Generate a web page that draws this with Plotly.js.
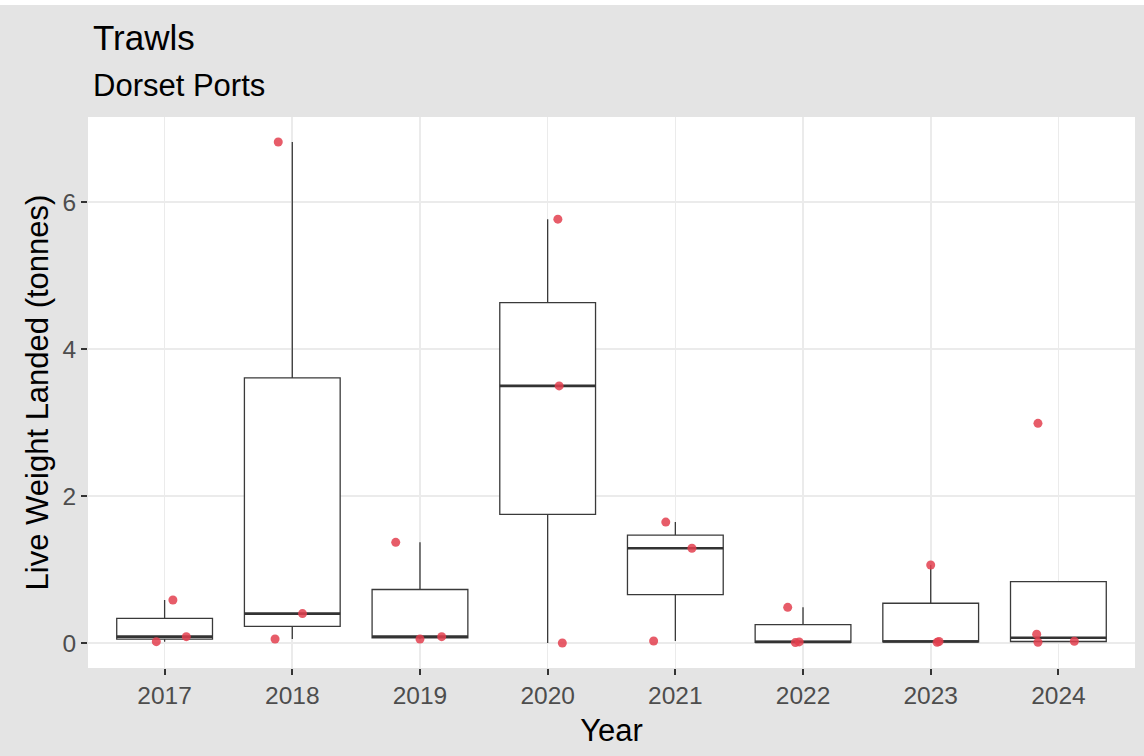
<!DOCTYPE html>
<html><head><meta charset="utf-8">
<script src="https://cdn.plot.ly/plotly-3.0.1.min.js"></script>
<style>
html,body{margin:0;padding:0;background:#ffffff;overflow:hidden;}
#chart{position:absolute;left:0;top:5px;width:1144px;height:751px;}
</style>
</head><body><div id="chart"></div>
<script>
// Categories
const years = [2017, 2018, 2019, 2020, 2021, 2022, 2023, 2024];
const yTicks = [0, 2, 4, 6];

const pointYear   = [2017, 2017, 2017, 2018, 2018, 2018, 2019, 2019, 2019, 2020, 2020, 2020, 2021, 2021, 2021, 2022, 2022, 2022, 2023, 2023, 2023, 2024, 2024, 2024, 2024];
const pointValue  = [0.585, 0.086, 0.018, 6.82, 0.40, 0.054, 1.37, 0.054, 0.086, 5.77, 3.50, 0.0, 1.646, 1.29, 0.027, 0.485, 0.005, 0.014, 1.061, 0.02, 0.008, 2.99, 0.118, 0.01, 0.023];
const pointJitter = [0.065, 0.17, -0.065, -0.11, 0.08, -0.135, -0.19, 0.0, 0.17, 0.08, 0.09, 0.115, -0.075, 0.13, -0.17, -0.12, -0.06, -0.03, 0.0, 0.065, 0.05, -0.16, -0.17, -0.16, 0.125];

// Box statistics computed from the observations (R type-7 quantiles, 1.5 IQR whiskers)
function quant(sorted, p) {
  const h = (sorted.length - 1) * p;
  const lo = Math.floor(h), hi = Math.ceil(h);
  return sorted[lo] + (h - lo) * (sorted[hi] - sorted[lo]);
}
const q1 = [], med = [], q3 = [], lf = [], uf = [];
years.forEach(yr => {
  const v = pointValue.filter((_, i) => pointYear[i] === yr).sort((a, b) => a - b);
  const a = quant(v, 0.25), m = quant(v, 0.5), b = quant(v, 0.75);
  const iqr = b - a;
  const inside = v.filter(x => x >= a - 1.5 * iqr && x <= b + 1.5 * iqr);
  q1.push(a); med.push(m); q3.push(b);
  lf.push(Math.min(a, Math.min(...inside)));
  uf.push(Math.max(b, Math.max(...inside)));
});

const BOXW = 0.75;
const boxTrace = {
  type: 'box',
  x: years,
  q1: q1, median: med, q3: q3, lowerfence: lf, upperfence: uf,
  width: BOXW,
  whiskerwidth: 0,
  fillcolor: '#ffffff',
  line: {color: '#3a3a3a', width: 1.3},
  boxpoints: false,
  showlegend: false,
  hoverinfo: 'skip'
};

// thicker median segments (ggplot draws the median at double width)
const mx = [], my = [];
years.forEach((yr, i) => { mx.push(yr - BOXW / 2, yr + BOXW / 2, null); my.push(med[i], med[i], null); });
const medianTrace = {
  type: 'scatter', mode: 'lines', x: mx, y: my,
  line: {color: '#333333', width: 2.6},
  showlegend: false, hoverinfo: 'skip'
};

const pointTrace = {
  type: 'scatter',
  mode: 'markers',
  x: pointYear.map((y, i) => y + pointJitter[i]),
  y: pointValue,
  marker: {color: '#E3404F', opacity: 0.85, size: 9, line: {width: 0}},
  showlegend: false,
  hoverinfo: 'y'
};

const FONT = 'Liberation Sans, Arial, sans-serif';
const layout = {
  width: 1144, height: 751,
  paper_bgcolor: '#E4E4E4',
  plot_bgcolor: '#FFFFFF',
  margin: {l: 88, r: 9, t: 112, b: 88},
  font: {family: FONT},
  showlegend: false,
  xaxis: {
    range: [2016.4, 2024.6],
    tickvals: years,
    ticktext: years.map(String),
    ticks: 'outside', ticklen: 6, tickwidth: 2, tickcolor: '#333333',
    showgrid: true, gridcolor: '#EBEBEB', gridwidth: 1.6,
    zeroline: false, showline: false,
    tickfont: {size: 24.5, color: '#4D4D4D', family: FONT},
    title: {text: 'Year', font: {size: 31, color: '#000000', family: FONT}, standoff: 10}
  },
  yaxis: {
    range: [-0.341, 7.161],
    tickvals: yTicks,
    ticktext: yTicks.map(String),
    ticks: 'outside', ticklen: 6, tickwidth: 2, tickcolor: '#333333',
    showgrid: true, gridcolor: '#EBEBEB', gridwidth: 1.6,
    zeroline: false, showline: false,
    tickfont: {size: 24.5, color: '#4D4D4D', family: FONT},
    title: {text: 'Live Weight Landed (tonnes)', font: {size: 31, color: '#000000', family: FONT}, standoff: 4}
  },
  annotations: [
    {text: 'Trawls', xref: 'paper', yref: 'paper', x: 0.003, y: 1.1434, xanchor: 'left', yanchor: 'middle',
     showarrow: false, font: {size: 35, color: '#000000', family: FONT}},
    {text: 'Dorset Ports', xref: 'paper', yref: 'paper', x: 0.003, y: 1.0563, xanchor: 'left', yanchor: 'middle',
     showarrow: false, font: {size: 31, color: '#000000', family: FONT}}
  ]
};

Plotly.newPlot('chart', [boxTrace, medianTrace, pointTrace], layout, {displayModeBar: false, staticPlot: true});
</script>
</body></html>
